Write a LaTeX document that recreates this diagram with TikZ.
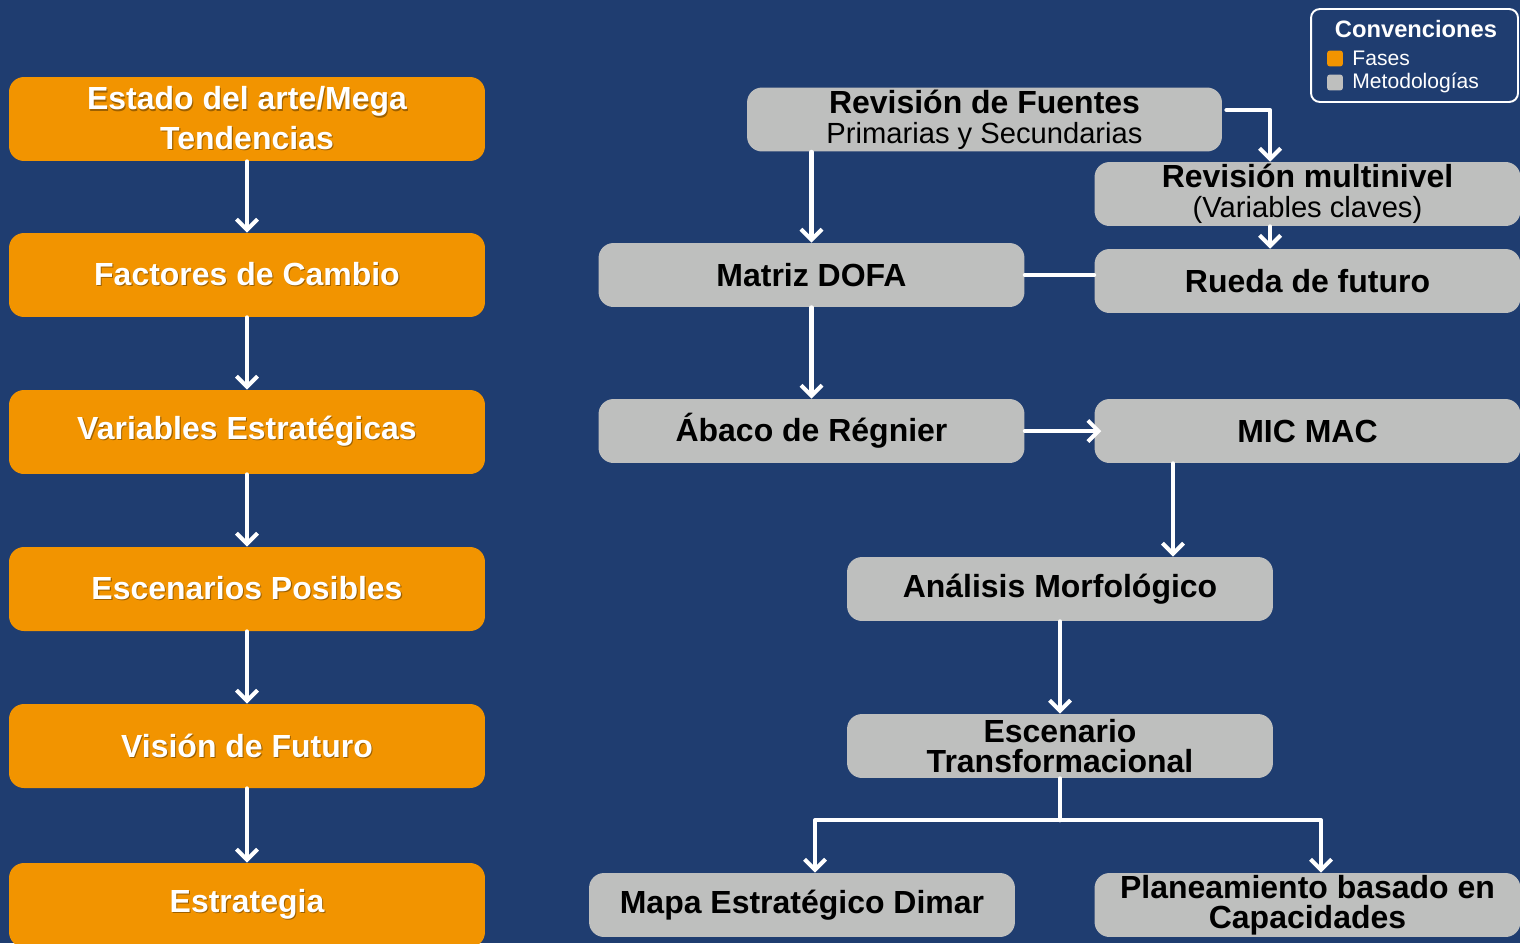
\documentclass[tikz,border=0pt]{standalone}
\usepackage{fontspec}
\setmainfont{Liberation Sans}
\usetikzlibrary{arrows.meta,positioning}
\definecolor{fondo}{RGB}{31,61,112}
\definecolor{naranja}{RGB}{242,148,0}
\definecolor{gris}{RGB}{190,191,190}
\newcommand{\sombra}[1]{\rlap{\kern0.6pt\raisebox{-0.6pt}{\textcolor{black!35!naranja}{#1}}}#1}
\begin{document}
\begin{tikzpicture}[x=0.02cm,y=-0.02cm, line join=round, line cap=round,>={Straight Barb[length=6pt,width=12pt]},
        fase/.style={fill=naranja, rounded corners=8.5pt, minimum width=270.9pt, minimum height=47.8pt, align=center, text=white, font=\bfseries\fontsize{18.2}{22.7}\selectfont},
        metodo/.style={fill=gris, rounded corners=8.5pt, minimum width=242.4pt, minimum height=36.4pt, inner ysep=0pt, align=center, text=black, font=\bfseries\fontsize{18.2}{17}\selectfont},
        flecha/.style={draw=white, line width=2.3pt},
        leyenda/.style={text=white, inner sep=1pt, font=\fontsize{12}{13}\selectfont}]
                \fill[fondo] (0,0) rectangle (1520,943);
                \useasboundingbox (0,0) rectangle (1520,943);
                % fases
                \node[fase] (est) at (247,119) {\sombra{Estado del arte/Mega}\\\sombra{Tendencias}};
                \node[fase] (fac) at (247,275) {\sombra{Factores de Cambio}};
                \node[fase] (var) at (247,432) {\sombra{Variables Estratégicas}};
                \node[fase] (esc) at (247,589) {\sombra{Escenarios Posibles}};
                \node[fase] (vis) at (247,746) {\sombra{Visión de Futuro}};
                \node[fase] (estr) at (247,905) {\sombra{Estrategia}};
                \foreach \a/\b in {est/fac,fac/var,var/esc,esc/vis,vis/estr}
                \draw[flecha,->] (\a) -- (\b);
                % metodologias
                \node[metodo, minimum width=270.3pt] (rf) at (984.5,119.5) {Revisión de Fuentes\\{\mdseries\fontsize{16.6}{17}\selectfont Primarias y Secundarias}};
                \node[metodo] (rm) at (1307.5,194) {Revisión multinivel\\{\mdseries\fontsize{16.6}{17}\selectfont (Variables claves)}};
                \node[metodo] (mdofa) at (811.5,275) {Matriz DOFA};
                \node[metodo] (rueda) at (1307.5,281) {Rueda de futuro};
                \node[metodo] (abaco) at (811.5,431) {Ábaco de Régnier};
                \node[metodo] (micmac) at (1307.5,431) {MIC MAC};
                \node[metodo] (anal) at (1060,589) {Análisis Morfológico};
                \node[metodo] (escT) at (1060,746) {Escenario\\Transformacional};
                \node[metodo] (mapa) at (802,905) {Mapa Estratégico Dimar};
                \node[metodo] (plan) at (1307.5,905) {Planeamiento basado en\\Capacidades};
                \draw[flecha,->] (rf.south -| mdofa.north) -- (mdofa.north);
                \draw[flecha,->] ([shift={(2.3pt,5.4pt)}]rf.east) -| ([xshift=-21.3pt]rm.north);
                \draw[flecha,->] ([xshift=-21.3pt]rm.south) -- ([xshift=-21.3pt]rueda.north);
                \draw[flecha] (mdofa.east) -- (mdofa.east -| rueda.west);
                \draw[flecha,->] (abaco) -- ([xshift=4pt]micmac.west);
                \draw[flecha,->] (mdofa) -- (abaco);
                \coordinate (mm) at ([xshift=64.3pt]anal.north);
                \draw[flecha,->] (mm |- micmac.south) -- (mm);
                \draw[flecha,->] (anal) -- (escT);
                \coordinate (rama) at ([yshift=-23.9pt]escT.south);
                \draw[flecha] (escT.south) -- (rama);
                \draw[flecha,->] (rama) -| ([xshift=7.4pt]mapa.north);
                \draw[flecha,->] (rama) -| ([xshift=7.7pt]plan.north);
                % convenciones
                \node[draw=white, line width=1.1pt, rounded corners=5pt, minimum width=117.8pt, minimum height=52.9pt] (conv) at (1414.5,55.5) {};
                \node[text=white, font=\bfseries\fontsize{13.5}{14}\selectfont] (convT) at (1416,29) {Convenciones};
                \node[fill=naranja, rounded corners=1.5pt, minimum size=9pt, inner sep=0pt] (cNar) at (1335,58.5) {};
                \node[fill=gris, rounded corners=1.5pt, minimum size=9pt, inner sep=0pt] (cGri) at (1335,82.5) {};
                \node[leyenda, right=4pt of cNar] (fases) {Fases};
                \node[leyenda, right=4pt of cGri] (metod) {Metodologías};
        \end{tikzpicture}
\end{document}
